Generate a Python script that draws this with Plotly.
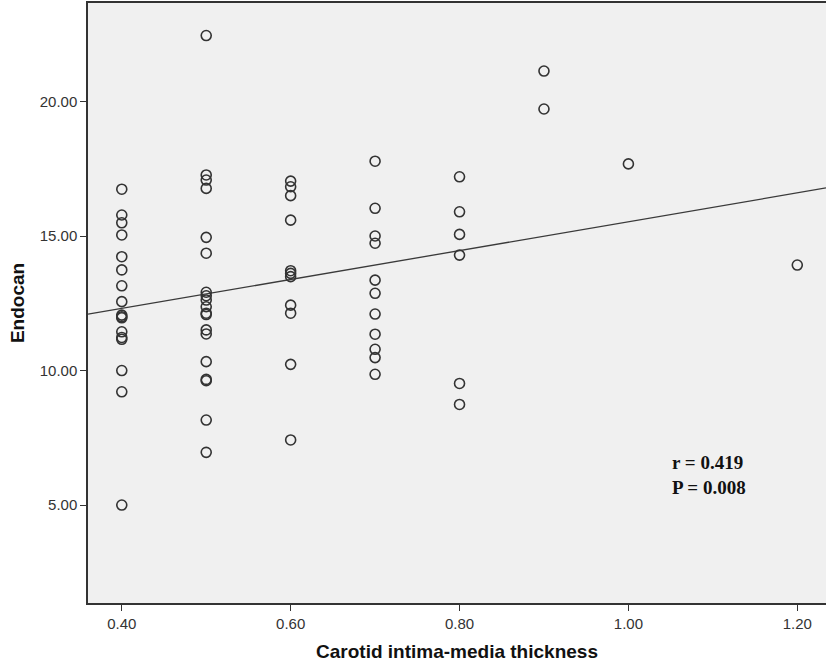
import numpy as np
import plotly.graph_objects as go

# Carotid intima-media thickness groups and Endocan values
cimt_040 = [16.74, 15.78, 15.49, 15.04, 14.23, 13.74, 13.15, 12.56, 12.06, 12.00, 11.96,
            11.44, 11.23, 11.16, 10.00, 9.21, 5.00]
cimt_050 = [22.45, 17.27, 17.08, 16.77, 14.95, 14.36, 12.91, 12.78, 12.62, 12.37, 12.13,
            12.08, 11.51, 11.36, 10.33, 9.67, 9.62, 8.16, 6.96]
cimt_060 = [17.04, 16.83, 16.50, 15.59, 13.71, 13.61, 13.49, 12.43, 12.13, 10.23, 7.42]
cimt_070 = [17.78, 16.03, 15.00, 14.73, 13.36, 12.87, 12.10, 11.35, 10.79, 10.48, 9.86]
cimt_080 = [17.20, 15.90, 15.06, 14.29, 9.52, 8.74]
cimt_090 = [21.13, 19.72]
cimt_100 = [17.68]
cimt_120 = [13.92]

groups = [(0.40, cimt_040), (0.50, cimt_050), (0.60, cimt_060), (0.70, cimt_070),
          (0.80, cimt_080), (0.90, cimt_090), (1.00, cimt_100), (1.20, cimt_120)]

x_vals = []
y_vals = []
for xv, ys in groups:
    x_vals += [xv] * len(ys)
    y_vals += ys
x_vals = np.array(x_vals)
y_vals = np.array(y_vals)

x_ticks = [0.40, 0.60, 0.80, 1.00, 1.20]
x_tick_labels = ["0.40", "0.60", "0.80", "1.00", "1.20"]
y_ticks = [5, 10, 15, 20]
y_tick_labels = ["5.00", "10.00", "15.00", "20.00"]

x_range = [0.36, 1.234]
y_range = [1.36, 23.66]

slope, intercept = np.polyfit(x_vals, y_vals, 1)
fit_x = np.array(x_range)
fit_y = slope * fit_x + intercept

fig = go.Figure()
fig.add_trace(go.Scatter(
    x=fit_x, y=fit_y, mode="lines",
    line=dict(color="#3a3a3a", width=1.3),
    hoverinfo="skip", showlegend=False,
))
fig.add_trace(go.Scatter(
    x=x_vals, y=y_vals, mode="markers",
    marker=dict(symbol="circle-open", size=10, color="#333333", line=dict(width=1.6, color="#333333")),
    showlegend=False,
))

fig.add_annotation(
    x=1.049, y=6.12, xref="x", yref="y", xanchor="left",
    text="<b>r = 0.419</b><br><b>P = 0.008</b>",
    showarrow=False, align="left",
    font=dict(family="Liberation Serif, Times New Roman, serif", size=19, color="#111111"),
)

fig.update_layout(
    width=826, height=666,
    margin=dict(l=88, r=0, t=3, b=63),
    paper_bgcolor="white",
    plot_bgcolor="#f0f0f0",
    font=dict(family="Liberation Sans, Arial, sans-serif", color="#222222"),
    xaxis=dict(
        range=x_range, tickvals=x_ticks, ticktext=x_tick_labels,
        showgrid=False, zeroline=False,
        showline=True, linecolor="#333333", linewidth=1.5, mirror=True,
        ticks="outside", ticklen=6, tickwidth=1.2, tickcolor="#333333",
        tickfont=dict(size=15, color="#333333"),
        title=dict(text="<b>Carotid intima-media thickness</b>", font=dict(size=19, color="#111111"), standoff=14),
    ),
    yaxis=dict(
        range=y_range, tickvals=y_ticks, ticktext=y_tick_labels,
        showgrid=False, zeroline=False,
        showline=True, linecolor="#333333", linewidth=1.5, mirror=False,
        ticks="outside", ticklen=6, tickwidth=1.2, tickcolor="#333333",
        tickfont=dict(size=15, color="#333333"),
        title=dict(text="<b>Endocan</b>", font=dict(size=19, color="#111111"), standoff=10),
    ),
)

fig.write_html("out.html", config={"displayModeBar": False},
               post_script="document.body.style.margin='0px';")
